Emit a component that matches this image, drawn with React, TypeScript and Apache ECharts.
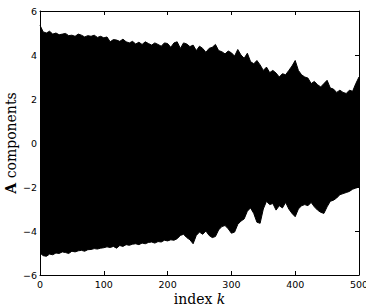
import React, { useEffect, useRef } from "react";
import * as echarts from "echarts";

// index k sampled every 5 steps (0..500)
const K_INDEX: number[] = Array.from({ length: 101 }, (_, i) => i * 5);

// upper envelope of all traces
const UPPER: number[] = [
  5.35, 5.05, 5.0, 5.08, 4.95, 5.0, 4.92, 4.95, 4.98, 4.88,
  4.9, 4.85, 4.95, 4.9, 4.82, 4.88, 4.85, 4.9, 4.8, 4.85,
  4.78, 4.82, 4.6, 4.7, 4.68, 4.62, 4.72, 4.6, 4.55, 4.62,
  4.5, 4.58, 4.48, 4.6, 4.52, 4.45, 4.55, 4.48, 4.4, 4.55,
  4.52, 4.35, 4.55, 4.6, 4.3, 4.55, 4.5, 4.38, 4.45, 4.2,
  4.4, 4.3, 4.12, 4.3, 4.35, 4.48, 4.2, 4.15, 4.05, 4.18,
  4.1, 3.95, 4.25, 4.0, 3.85, 4.08, 3.7, 3.6, 3.75, 3.55,
  3.3, 3.45, 3.2, 3.3, 3.18, 3.0, 3.15, 3.1, 3.3, 3.5,
  3.75, 3.3, 3.1, 3.0, 2.95, 2.7, 2.8, 2.65, 2.55, 2.7,
  2.85, 2.5, 2.45, 2.3, 2.4, 2.3, 2.25, 2.4, 2.35, 2.7,
  3.0,
];

// lower envelope of all traces
const LOWER: number[] = [
  -5.0, -5.12, -5.15, -5.05, -5.08, -5.0, -5.02, -4.95, -4.98, -5.02,
  -4.92, -4.95, -4.9, -4.88, -4.92, -4.85, -4.84, -4.8, -4.82, -4.78,
  -4.76, -4.72, -4.75, -4.7, -4.78, -4.66, -4.7, -4.62, -4.65, -4.6,
  -4.58, -4.62, -4.55, -4.58, -4.52, -4.5, -4.55, -4.48, -4.5, -4.42,
  -4.45, -4.4, -4.42, -4.35, -4.2, -4.15, -4.3, -4.4, -4.58, -4.2,
  -4.05, -4.15, -4.0, -4.2, -4.3, -4.25, -3.95, -3.8, -3.75, -3.9,
  -4.1, -4.05, -3.7, -3.55, -3.45, -3.1, -2.95, -3.2, -3.6, -3.65,
  -3.0, -2.65, -2.8, -2.75, -3.05, -2.85, -2.95, -2.7, -3.0, -3.2,
  -3.35, -3.0, -2.85, -2.8, -2.85, -2.7, -2.9, -3.05, -3.15, -3.2,
  -2.9, -2.65, -2.6, -2.5, -2.35, -2.3, -2.25, -2.2, -2.1, -2.05,
  -2.0,
];

const X_MIN = 0, X_MAX = 500, X_STEP = 100;
const Y_MIN = -6, Y_MAX = 6, Y_STEP = 2;

const SANS = "DejaVu Sans";
const SERIF = "DejaVu Serif";

export default function App() {
  const ref = useRef<HTMLDivElement>(null);
  useEffect(() => {
    if (!ref.current) return;
    const chart = echarts.init(ref.current, undefined, { renderer: "svg" });
    const axisLine = { show: true, onZero: false, lineStyle: { color: "#000", width: 1 } };
    const axisTick = { show: true, inside: true, length: 4, lineStyle: { color: "#000", width: 1 } };
    const labelStyle = {
      color: "#000",
      fontFamily: SANS,
      fontSize: 9.5,
      formatter: (v: number) => String(v).replace("-", "\u2212"),
    };
    const nameStyle = {
      color: "#000",
      fontFamily: SERIF,
      fontSize: 14,
      rich: {
        b: { fontFamily: SERIF, fontSize: 14, fontWeight: "bold", color: "#000" },
        i: { fontFamily: SERIF, fontSize: 14, fontStyle: "italic", color: "#000" },
      },
    };
    // each envelope is filled toward (and slightly past) the zero line so the two fills overlap
    const envelope = (vals: number[], origin: number) => ({
      type: "line",
      data: K_INDEX.map((k, i) => [k, vals[i]]),
      symbol: "none",
      silent: true,
      lineStyle: { color: "#000", width: 1 },
      areaStyle: { color: "#000", opacity: 1, origin },
    });
    chart.setOption({
      animation: false,
      backgroundColor: "#fff",
      grid: { left: 40, right: 7, top: 11, bottom: 33, containLabel: false, outerBoundsMode: "none" },
      xAxis: [
        {
          type: "value", min: X_MIN, max: X_MAX, interval: X_STEP, position: "bottom",
          axisLine, axisTick, splitLine: { show: false },
          axisLabel: { ...labelStyle, margin: 4 },
          name: "index {i|k}", nameLocation: "middle", nameGap: 17, nameMoveOverlap: false,
          nameTextStyle: nameStyle,
        },
        {
          type: "value", min: X_MIN, max: X_MAX, interval: X_STEP, position: "top",
          axisLine, axisTick, splitLine: { show: false }, axisLabel: { show: false },
        },
      ],
      yAxis: [
        {
          type: "value", min: Y_MIN, max: Y_MAX, interval: Y_STEP, position: "left",
          axisLine, axisTick, splitLine: { show: false },
          axisLabel: { ...labelStyle, margin: 3 },
          name: "{b|A} components", nameLocation: "middle", nameGap: 22, nameMoveOverlap: false,
          nameTextStyle: nameStyle,
        },
        {
          type: "value", min: Y_MIN, max: Y_MAX, interval: Y_STEP, position: "right",
          axisLine, axisTick, splitLine: { show: false }, axisLabel: { show: false },
        },
      ],
      series: [envelope(UPPER, -1), envelope(LOWER, 1)],
    });
    return () => chart.dispose();
  }, []);
  return (
    <div
      ref={ref}
      style={{ position: "fixed", left: 0, top: 0, width: 366, height: 308, background: "#fff" }}
    />
  );
}
